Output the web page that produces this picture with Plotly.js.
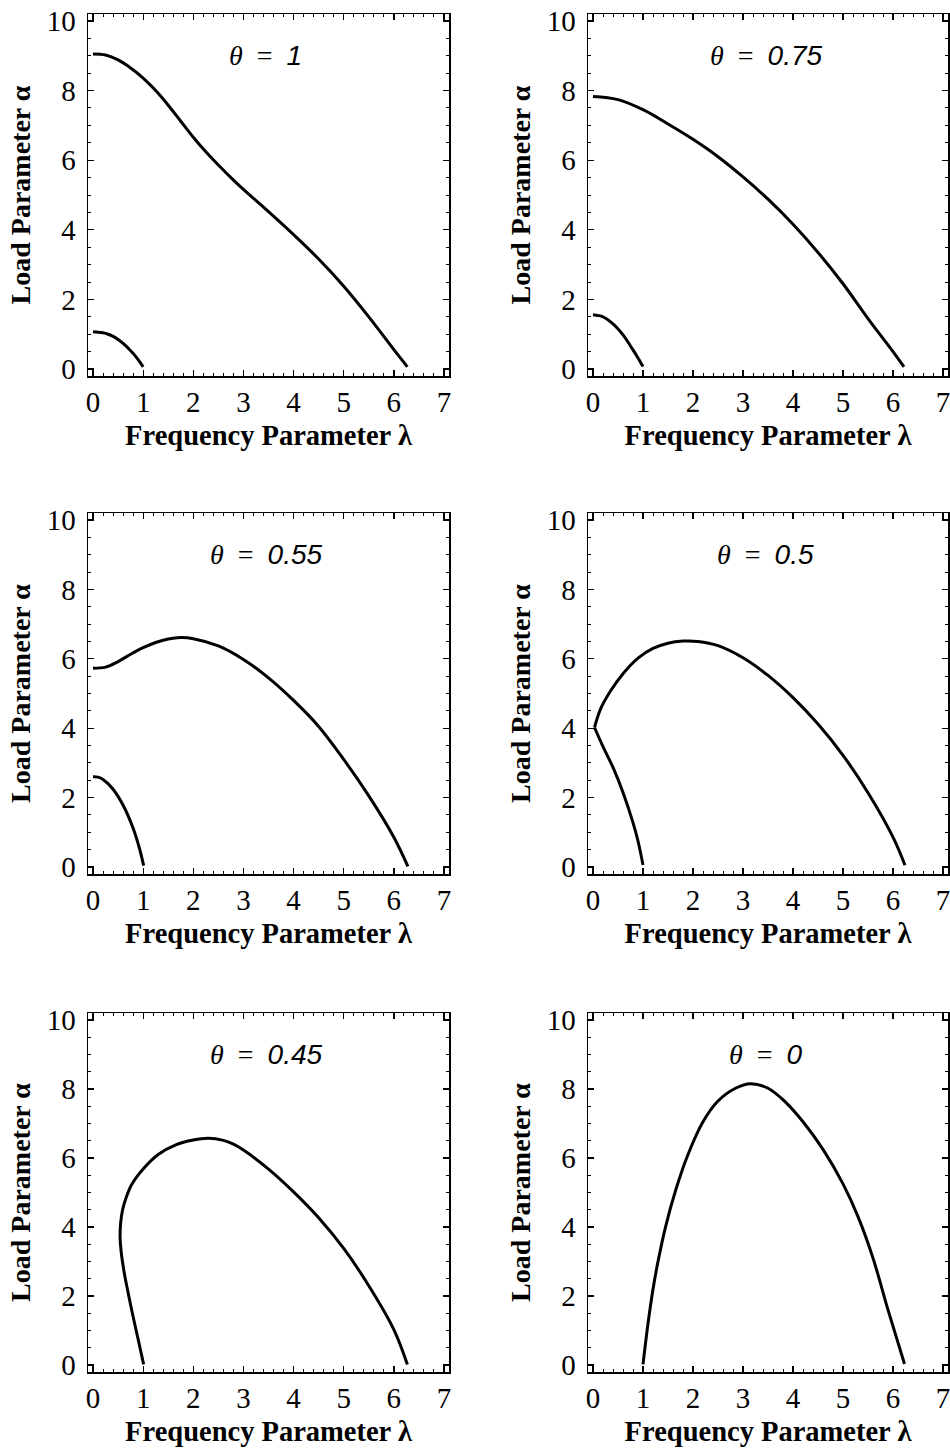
<!DOCTYPE html>
<html>
<head>
<meta charset="utf-8">
<script src="https://cdn.plot.ly/plotly-3.0.1.min.js"></script>
<style>html,body{margin:0;padding:0;background:#fff;}#chart{width:950px;height:1452px;}</style>
</head>
<body>
<div id="chart"></div>
<script>
// ---- data ----
const thetaLabels = ['1', '0.75', '0.55', '0.5', '0.45', '0'];

// theta = 1
const lam1a = [0, 0.25, 0.5, 0.75, 1.0, 1.25, 1.5, 1.75, 2.0, 2.25, 2.5, 2.75, 3.0, 3.5, 4.0, 4.5, 5.0, 5.5, 6.0, 6.27];
const alp1a = [9.05, 9.02, 8.88, 8.65, 8.36, 8.0, 7.58, 7.12, 6.66, 6.24, 5.86, 5.5, 5.16, 4.52, 3.86, 3.16, 2.38, 1.5, 0.56, 0.06];
const lam1b = [0, 0.1, 0.2, 0.3, 0.4, 0.5, 0.6, 0.7, 0.8, 0.9, 1.0];
const alp1b = [1.07, 1.06, 1.04, 1.0, 0.94, 0.85, 0.74, 0.6, 0.45, 0.27, 0.06];

// theta = 0.75
const lam2a = [0, 0.5, 1.0, 1.5, 2.0, 2.5, 3.0, 3.5, 4.0, 4.5, 5.0, 5.5, 6.0, 6.22];
const alp2a = [7.83, 7.74, 7.45, 7.04, 6.6, 6.1, 5.52, 4.88, 4.16, 3.35, 2.45, 1.45, 0.5, 0.06];
const lam2b = [0, 0.2, 0.4, 0.6, 0.8, 0.9, 1.0];
const alp2b = [1.56, 1.5, 1.3, 0.98, 0.55, 0.32, 0.07];

// theta = 0.55
const lam3a = [0, 0.25, 0.5, 0.75, 1.0, 1.25, 1.5, 1.75, 2.0, 2.5, 3.0, 3.5, 4.0, 4.5, 5.0, 5.5, 6.0, 6.28];
const alp3a = [5.73, 5.76, 5.92, 6.13, 6.32, 6.47, 6.57, 6.61, 6.58, 6.37, 5.98, 5.45, 4.8, 4.05, 3.1, 2.05, 0.86, 0.02];
const lam3b = [0, 0.1, 0.2, 0.4, 0.6, 0.8, 0.93, 1.01];
const alp3b = [2.6, 2.59, 2.52, 2.24, 1.78, 1.12, 0.52, 0.04];

// theta = 0.5 (two branches meeting at a cusp)
const lam4a = [0.03, 0.15, 0.35, 0.6, 0.9, 1.2, 1.5, 1.8, 2.1, 2.5, 3.0, 3.5, 4.0, 4.5, 5.0, 5.5, 6.0, 6.24];
const alp4a = [4.02, 4.55, 5.07, 5.57, 6.02, 6.3, 6.45, 6.51, 6.5, 6.38, 6.03, 5.52, 4.88, 4.12, 3.22, 2.14, 0.86, 0.05];
const lam4b = [0.03, 0.2, 0.4, 0.6, 0.8, 0.9, 1.0];
const alp4b = [4.02, 3.47, 2.87, 2.15, 1.28, 0.75, 0.06];

// theta = 0.45
const lam5 = [1.01, 0.9, 0.8, 0.7, 0.62, 0.56, 0.54, 0.55, 0.59, 0.66, 0.78, 1.0, 1.3, 1.65, 2.0, 2.3, 2.6, 2.8, 3.0, 3.5, 4.0, 4.5, 5.0, 5.5, 6.0, 6.27];
const alp5 = [0.02, 0.75, 1.4, 2.1, 2.7, 3.3, 3.7, 4.1, 4.5, 4.85, 5.25, 5.68, 6.1, 6.38, 6.52, 6.57, 6.51, 6.4, 6.23, 5.68, 5.02, 4.27, 3.38, 2.3, 1.03, 0.02];

// theta = 0
const lam6 = [1.0, 1.1, 1.2, 1.3, 1.45, 1.65, 1.9, 2.2, 2.5, 2.85, 3.15, 3.5, 3.85, 4.2, 4.6, 5.0, 5.3, 5.6, 5.9, 6.1, 6.23];
const alp6 = [0.02, 1.2, 2.2, 3.0, 4.0, 5.05, 6.1, 7.05, 7.65, 8.02, 8.15, 8.02, 7.62, 7.05, 6.25, 5.25, 4.3, 3.1, 1.6, 0.65, 0.03];

const xTickVals = [0, 1, 2, 3, 4, 5, 6, 7];
const yTickVals = [0, 2, 4, 6, 8, 10];

// ---- build ----
const panels = [
  [[lam1a, alp1a], [lam1b, alp1b]],
  [[lam2a, alp2a], [lam2b, alp2b]],
  [[lam3a, alp3a], [lam3b, alp3b]],
  [[lam4a, alp4a], [lam4b, alp4b]],
  [[lam5, alp5]],
  [[lam6, alp6]]
];

const W = 950, H = 1452;
const colPx = [[88, 449], [588, 948]];
const rowPx = [[14, 376], [513, 874], [1013, 1372]];

const serif = '"Liberation Serif", "Times New Roman", serif';

const traces = [];
const layout = {
  width: W, height: H,
  margin: {l: 0, r: 0, t: 0, b: 0},
  paper_bgcolor: '#fff', plot_bgcolor: '#fff',
  showlegend: false,
  font: {family: serif, size: 28, color: '#000'},
  annotations: []
};

panels.forEach((curves, i) => {
  const n = i + 1;
  const xa = n === 1 ? 'x' : 'x' + n;
  const ya = n === 1 ? 'y' : 'y' + n;
  curves.forEach(c => {
    traces.push({
      x: c[0], y: c[1], type: 'scatter', mode: 'lines',
      xaxis: xa, yaxis: ya,
      line: {color: '#000', width: 3, shape: 'spline', smoothing: 1},
      hoverinfo: 'skip'
    });
  });
  const col = colPx[i % 2], row = rowPx[Math.floor(i / 2)];
  const common = {
    showgrid: false, zeroline: false,
    showline: true, linecolor: '#000', linewidth: 1.5, mirror: 'allticks',
    ticks: 'inside', ticklen: 6, tickwidth: 1.3, tickcolor: '#000',
    tickfont: {family: serif, size: 29, color: '#000'},
    ticklabeloverflow: 'allow',
    automargin: false, fixedrange: true
  };
  layout['xaxis' + (n === 1 ? '' : n)] = Object.assign({}, common, {
    domain: [col[0] / W, col[1] / W],
    anchor: ya,
    range: [-0.1, 7.1],
    tickmode: 'array', tickvals: xTickVals, ticktext: xTickVals.map(String),
    ticklabelstandoff: 0,
    minor: {ticks: 'inside', dtick: 0.2, tick0: 0, ticklen: 3, tickwidth: 1, tickcolor: '#000'},
    title: {text: 'Frequency Parameter λ', standoff: 8,
            font: {family: serif, size: 28.5, color: '#000', weight: 'bold'}}
  });
  layout['yaxis' + (n === 1 ? '' : n)] = Object.assign({}, common, {
    domain: [1 - row[1] / H, 1 - row[0] / H],
    anchor: xa,
    range: [-0.2, 10.2],
    tickmode: 'array', tickvals: yTickVals, ticktext: yTickVals.map(String),
    ticklabelstandoff: 5,
    minor: {ticks: 'inside', dtick: 0.5, tick0: 0, ticklen: 3, tickwidth: 1, tickcolor: '#000'},
    title: {text: 'Load Parameter α', standoff: 8,
            font: {family: serif, size: 28, color: '#000', weight: 'bold'}}
  });
  layout.annotations.push({
    xref: xa, yref: ya, x: 3.45, y: 9.0, showarrow: false,
    xanchor: 'center', yanchor: 'middle',
    text: '<i>θ</i>\u00a0\u00a0=\u00a0\u00a0<span style="font-family:\'Liberation Sans\',Arial,sans-serif;font-style:italic;">' + thetaLabels[i] + '</span>',
    font: {family: serif, size: 28, color: '#000'}
  });
});

Plotly.newPlot('chart', traces, layout, {staticPlot: true});
</script>
</body>
</html>
